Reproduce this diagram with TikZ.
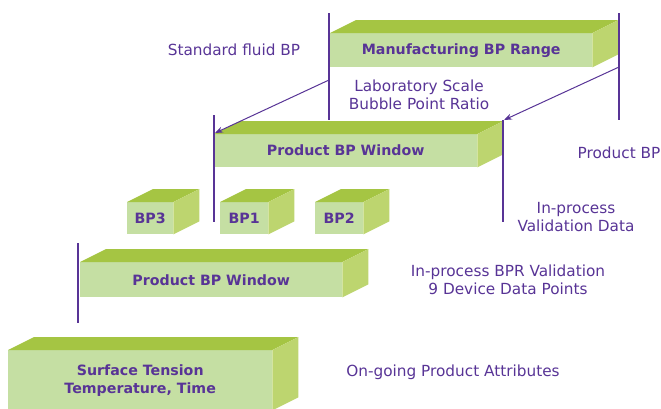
\documentclass[tikz,border=0pt]{standalone}
\usepackage{fontspec}
\setmainfont{DejaVu Sans}
\usetikzlibrary{positioning, arrows.meta}
\definecolor{bppurple}{RGB}{88,52,150}
\definecolor{facegreen}{RGB}{197,223,163}
\definecolor{topgreen}{RGB}{165,197,67}
\definecolor{sidegreen}{RGB}{189,213,111}

\begin{document}
\begin{tikzpicture}[x=1pt, y=-1pt, text=bppurple,
    face/.style={fill=facegreen, anchor=north west, inner sep=0pt, align=center,
        font=\fontsize{14.2}{18}\selectfont\bfseries},
    note/.style={align=center, font=\fontsize{15.3}{18}\selectfont},
    marker/.style={draw=bppurple, line width=1.3pt},
    pointer/.style={draw=bppurple, line width=1pt, -{Stealth[length=8pt, width=6pt]}}]
    \useasboundingbox (0,0) rectangle (661,408);

    % front faces
    \node[face, minimum width=262pt, minimum height=34pt] (mfg) at (330,33) {Manufacturing BP Range};
    \node[face, minimum width=263pt, minimum height=33pt] (win) at (214,134) {Product BP Window};
    \node[face, minimum width=46pt, minimum height=32pt] (bp3) at (127,202) {BP3};
    \node[face, minimum width=48pt, minimum height=32pt] (bp1) at (220,202) {BP1};
    \node[face, minimum width=48pt, minimum height=32pt] (bp2) at (315,202) {BP2};
    \node[face, minimum width=262pt, minimum height=35pt] (win2) at (80,262) {Product BP Window};
    \node[face, minimum width=264pt, minimum height=60pt] (surf) at (8,350) {Surface Tension\\Temperature, Time};

    % top and side faces
    \foreach \b in {mfg, win, bp3, bp1, bp2, win2, surf} {
        \fill[topgreen] (\b.north west) -- ++(26,-13) -- ([shift={(26,-13)}]\b.north east) -- (\b.north east) -- cycle;
        \fill[sidegreen] (\b.north east) -- ++(26,-13) -- ([shift={(26,-13)}]\b.south east) -- (\b.south east) -- cycle;
    }

    % labels
    \node[note] (std) at (234,50) {Standard fluid BP};
    \node[note] (lab) at (419,95) {Laboratory Scale\\Bubble Point Ratio};
    \node[note] (prod) at (619,153) {Product BP};
    \node[note] (val) at (576,217) {In-process\\Validation Data};
    \node[note] (bpr) at (508,280) {In-process BPR Validation\\9 Device Data Points};
    \node[note] (ongo) at (453,372) {On-going Product Attributes};

    % limit lines
    \coordinate (stdA) at (329,13);  \coordinate (stdB) at (329,120);
    \coordinate (prodA) at (619,13); \coordinate (prodB) at (619,120);
    \coordinate (winA) at (214,115); \coordinate (winB) at (214,222);
    \coordinate (valA) at (503,120); \coordinate (valB) at (503,222);
    \coordinate (bprA) at (78,243);  \coordinate (bprB) at (78,323);
    \draw[marker] (stdA) -- (stdB);
    \draw[marker] (prodA) -- (prodB);
    \draw[marker] (winA) -- (winB);
    \draw[marker] (valA) -- (valB);
    \draw[marker] (bprA) -- (bprB);

    % ratio arrows
    \coordinate (lowFrom) at (329,80);  \coordinate (lowTo) at (215,133);
    \coordinate (highFrom) at (619,67); \coordinate (highTo) at (504,120);
    \draw[pointer] (lowFrom) -- (lowTo);
    \draw[pointer] (highFrom) -- (highTo);
\end{tikzpicture}
\end{document}
